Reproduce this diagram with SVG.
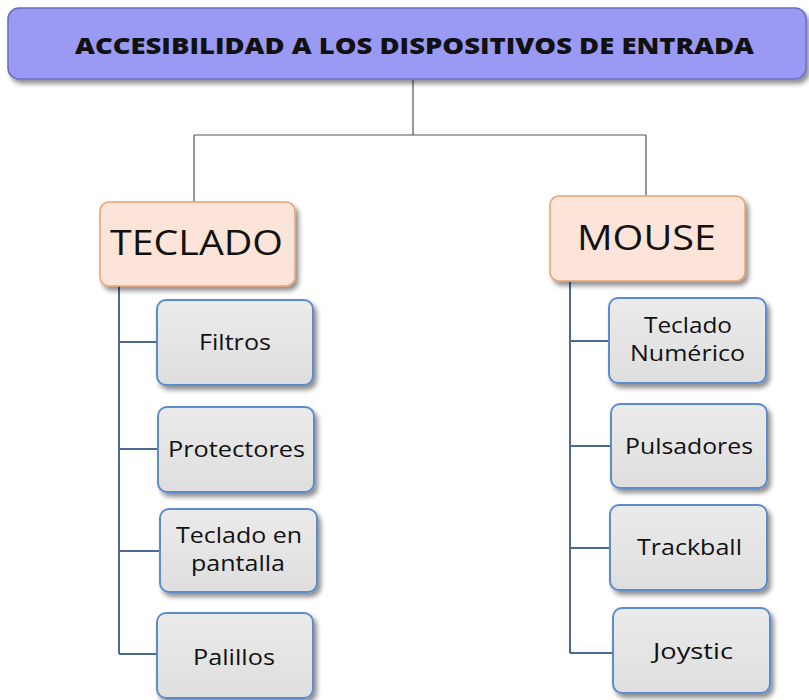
<svg xmlns="http://www.w3.org/2000/svg" width="809" height="700" viewBox="0 0 809 700">
<defs>
<filter id="sh" x="-10%" y="-10%" width="125%" height="135%">
<feGaussianBlur in="SourceAlpha" stdDeviation="2.5"/>
<feOffset dx="3" dy="4" result="b"/>
<feComponentTransfer><feFuncA type="linear" slope="0.45"/></feComponentTransfer>
<feMerge><feMergeNode/><feMergeNode in="SourceGraphic"/></feMerge>
</filter>
<linearGradient id="gc" x1="0" y1="0" x2="0" y2="1">
<stop offset="0" stop-color="#ebebeb"/>
<stop offset="1" stop-color="#dedede"/>
</linearGradient>
</defs>
<style>
.title{fill:#9a9af4;stroke:#6b6bc8;stroke-width:1.5}
.cat{fill:#fce5d8;stroke:#e6a274;stroke-width:1.5}
.child{fill:url(#gc);stroke:#5b8cd0;stroke-width:2}
.t{font-family:"Open Sans","Liberation Sans",sans-serif;fill:#111;text-anchor:middle}
.tt{font-size:23px;font-weight:800}
.tc{font-size:35px}
.tk{font-size:21px}
.ln{fill:none;stroke:#555;stroke-width:1.2}
.lb{fill:none;stroke:#4d6a95;stroke-width:2}
</style>
<rect width="809" height="700" fill="#fff"/>
<g id="connectors">
<path class="ln" d="M413,79 V135 M194,135 H646 M194,135 V202 M646,135 V196"/>
<path class="lb" d="M119,286 V654 M119,342 H157 M119,449 H157 M119,551 H160 M119,654 H157"/>
<path class="lb" d="M570,281 V653 M570,341 H609 M570,446 H611 M570,548 H610 M570,653 H613"/>
</g>
<g id="title">
<rect class="title" x="8" y="8" width="798" height="71" rx="11" filter="url(#sh)"/>
<text class="t tt" x="414.5" y="53.5" textLength="679" lengthAdjust="spacingAndGlyphs">ACCESIBILIDAD A LOS DISPOSITIVOS DE ENTRADA</text>
</g>
<g id="teclado">
<rect class="cat" x="100" y="202" width="195" height="84" rx="9" filter="url(#sh)"/>
<text class="t tc" x="196.5" y="255" textLength="173" lengthAdjust="spacingAndGlyphs">TECLADO</text>
</g>
<g id="mouse">
<rect class="cat" x="550" y="196" width="195" height="85" rx="9" filter="url(#sh)"/>
<text class="t tc" x="646.5" y="250" textLength="139" lengthAdjust="spacingAndGlyphs">MOUSE</text>
</g>
<g id="filtros">
<rect class="child" x="157" y="300" width="156" height="85" rx="9" filter="url(#sh)"/>
<text class="t tk" x="235" y="350" textLength="72" lengthAdjust="spacingAndGlyphs">Filtros</text>
</g>
<g id="protectores">
<rect class="child" x="158" y="407" width="156" height="85" rx="9" filter="url(#sh)"/>
<text class="t tk" x="236.5" y="457" textLength="137" lengthAdjust="spacingAndGlyphs">Protectores</text>
</g>
<g id="teclado-pantalla">
<rect class="child" x="160" y="509" width="157" height="83" rx="9" filter="url(#sh)"/>
<text class="t tk" x="239" y="543" textLength="126" lengthAdjust="spacingAndGlyphs">Teclado en</text>
<text class="t tk" x="238" y="571" textLength="94" lengthAdjust="spacingAndGlyphs">pantalla</text>
</g>
<g id="palillos">
<rect class="child" x="157" y="613" width="156" height="85" rx="9" filter="url(#sh)"/>
<text class="t tk" x="234" y="665" textLength="82" lengthAdjust="spacingAndGlyphs">Palillos</text>
</g>
<g id="teclado-numerico">
<rect class="child" x="609" y="298" width="157" height="85" rx="9" filter="url(#sh)"/>
<text class="t tk" x="688" y="333" textLength="88" lengthAdjust="spacingAndGlyphs">Teclado</text>
<text class="t tk" x="687.5" y="361" textLength="115" lengthAdjust="spacingAndGlyphs">Numérico</text>
</g>
<g id="pulsadores">
<rect class="child" x="611" y="404" width="156" height="84" rx="9" filter="url(#sh)"/>
<text class="t tk" x="689" y="454" textLength="128" lengthAdjust="spacingAndGlyphs">Pulsadores</text>
</g>
<g id="trackball">
<rect class="child" x="610" y="505" width="157" height="85" rx="9" filter="url(#sh)"/>
<text class="t tk" x="689.5" y="555" textLength="105" lengthAdjust="spacingAndGlyphs">Trackball</text>
</g>
<g id="joystic">
<rect class="child" x="613" y="608" width="157" height="85" rx="9" filter="url(#sh)"/>
<text class="t tk" x="693" y="659" textLength="80" lengthAdjust="spacingAndGlyphs">Joystic</text>
</g>
</svg>
